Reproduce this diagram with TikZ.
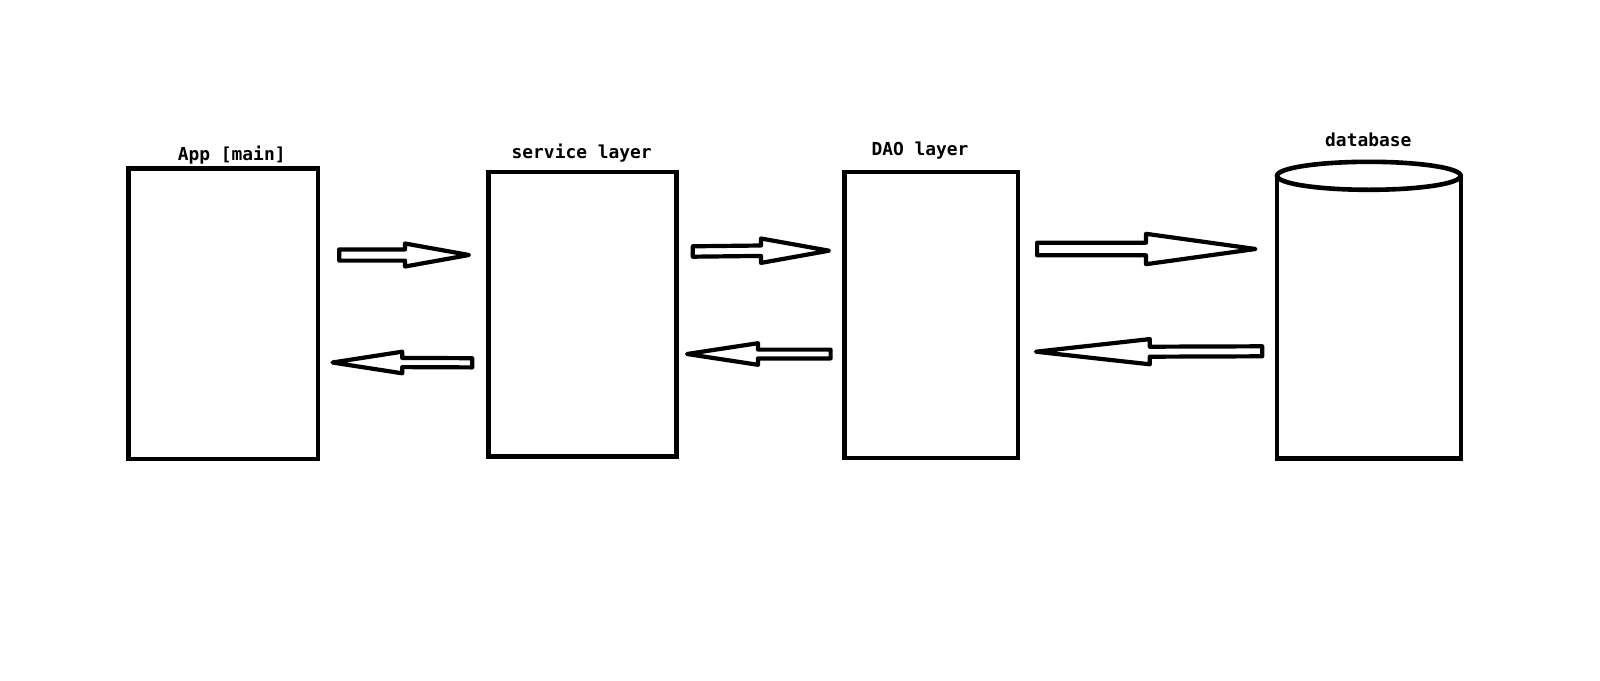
\documentclass[tikz,border=0pt]{standalone}
\usepackage{fontspec}
\setmonofont{DejaVu Sans Mono}
\usetikzlibrary{calc}
\tikzset{
  box/.style={draw, line width=4.6pt, inner sep=0pt},
  fat/.style={draw, line width=4.2pt, line join=round},
  lbl/.style={font=\ttfamily\bfseries\fontsize{17.9}{20}\selectfont, inner sep=0pt, anchor=base}
}
% block arrow: tail, tip, shaft half width, head half width, signed head length
\newcommand{\fatarrow}[5]{%
  \draw[fat] ($(#1)+(0,#3)$) -- ($(#2)+(#5,#3)$) -- ($(#2)+(#5,#4)$) -- (#2)
    -- ($(#2)+(#5,-#4)$) -- ($(#2)+(#5,-#3)$) -- ($(#1)+(0,-#3)$) -- cycle;}
\begin{document}
\begin{tikzpicture}[x=1pt,y=-1pt]
\useasboundingbox (0,0) rectangle (1600,680);
% layers
\node[box, minimum width=189.3pt, minimum height=290.3pt] (app) at (223.35,313.85) {};
\node[box, minimum width=187.6pt, minimum height=284.3pt] (service) at (582.5,314.15) {};
\node[box, minimum width=173.3pt, minimum height=286pt] (dao) at (931.35,315) {};
\node[inner sep=0pt, minimum width=183.7pt, minimum height=282pt] (db) at (1368.85,317) {};
\draw[line width=4.6pt] (db.north west) -- (db.south west) -- (db.south east) -- (db.north east);
\draw[line width=4.6pt] (db.north) ellipse [x radius=91.85pt, y radius=14pt];
% labels
\node[lbl] (applbl) at (231.7,160) {App [main]};
\node[lbl] (servicelbl) at (581.7,158.3) {service layer};
\node[lbl] (daolbl) at (920,155) {DAO layer};
\node[lbl] (dblbl) at (1368.3,146.7) {database};
% arrow ends
\coordinate (a1s) at (339.2,255);   \coordinate (a1t) at (469,255);
\coordinate (a2s) at (472.2,362.8); \coordinate (a2t) at (332.5,362.5);
\coordinate (a3s) at (692.8,251.5); \coordinate (a3t) at (829,250.7);
\coordinate (a4s) at (830.6,354);   \coordinate (a4t) at (687,354);
\coordinate (a5s) at (1037.1,249);  \coordinate (a5t) at (1255.5,249);
\coordinate (a6s) at (1262.2,351.3); \coordinate (a6t) at (1036,351.7);
\fatarrow{a1s}{a1t}{5.6}{11.5}{-64}
\fatarrow{a2s}{a2t}{4.6}{10.8}{69.7}
\fatarrow{a3s}{a3t}{5.2}{12.2}{-68}
\fatarrow{a4s}{a4t}{4.4}{10.8}{71}
\fatarrow{a5s}{a5t}{6.3}{15.2}{-109.5}
\fatarrow{a6s}{a6t}{5}{12.6}{113.8}
\end{tikzpicture}
\end{document}
